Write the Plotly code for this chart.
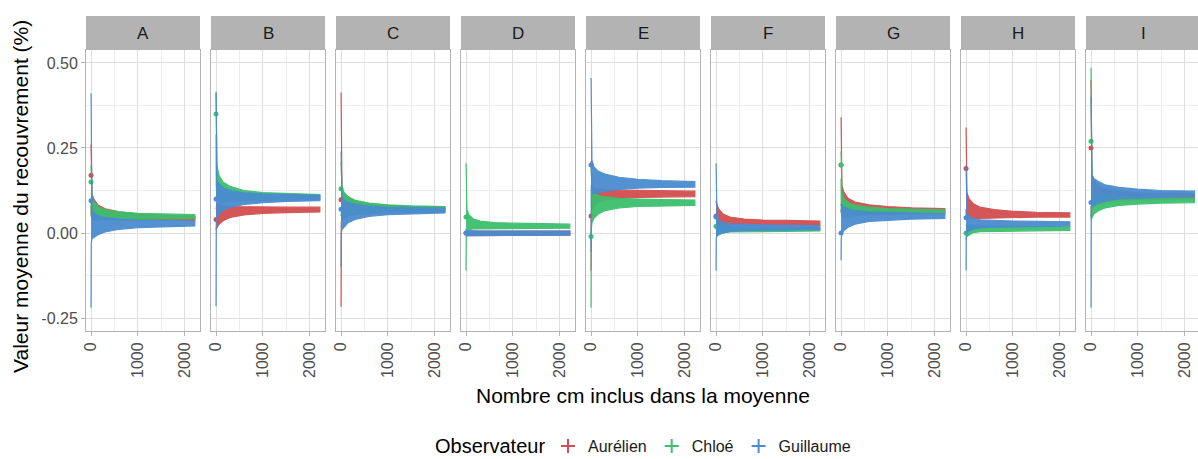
import numpy as np
import plotly.graph_objects as go
from plotly.subplots import make_subplots

PANELS = ["A", "B", "C", "D", "E", "F", "G", "H", "I"]
OBSERVERS = ["Aurélien", "Chloé", "Guillaume"]
COLORS = {"Aurélien": "#D24D4F", "Chloé": "#3DBF6E", "Guillaume": "#4A8CCF"}

# cm included in the running mean (sampled positions)
X_CM = [1, 5, 20, 60, 150, 300, 600, 1000, 1500, 2215]

# running mean per panel (A..I)
MEAN_AURELIEN = [
    [0.17, 0.09, 0.08, 0.07, 0.06, 0.055, 0.05, 0.047, 0.045, 0.043],
    [0.04, 0.045, 0.05, 0.055, 0.058, 0.062, 0.065, 0.067, 0.068, 0.069],
    [0.098, 0.09, 0.085, 0.08, 0.077, 0.074, 0.072, 0.071, 0.07, 0.07],
    [0.0, 0.0, 0.0, 0.0, 0.0, 0.0, 0.0, 0.0, 0.0, 0.0],
    [0.05, 0.09, 0.1, 0.105, 0.11, 0.112, 0.114, 0.115, 0.115, 0.115],
    [0.05, 0.06, 0.055, 0.048, 0.04, 0.035, 0.032, 0.03, 0.03, 0.029],
    [0.2, 0.12, 0.1, 0.09, 0.08, 0.075, 0.071, 0.069, 0.067, 0.066],
    [0.19, 0.09, 0.08, 0.072, 0.065, 0.06, 0.057, 0.055, 0.054, 0.053],
    [0.25, 0.14, 0.12, 0.115, 0.112, 0.11, 0.109, 0.108, 0.108, 0.108],
]
ERR_AURELIEN = [
    [0.09, 0.04, 0.035, 0.03, 0.022, 0.016, 0.012, 0.009, 0.007, 0.006],
    [0.03, 0.03, 0.035, 0.03, 0.022, 0.016, 0.012, 0.009, 0.008, 0.007],
    [0.315, 0.06, 0.045, 0.035, 0.027, 0.02, 0.014, 0.01, 0.008, 0.007],
    [0.008, 0.007, 0.006, 0.006, 0.006, 0.006, 0.006, 0.006, 0.006, 0.006],
    [0.16, 0.05, 0.035, 0.028, 0.02, 0.015, 0.012, 0.01, 0.008, 0.008],
    [0.04, 0.035, 0.028, 0.022, 0.016, 0.012, 0.009, 0.008, 0.007, 0.006],
    [0.14, 0.05, 0.04, 0.03, 0.022, 0.016, 0.012, 0.009, 0.007, 0.006],
    [0.12, 0.05, 0.04, 0.03, 0.022, 0.016, 0.012, 0.009, 0.007, 0.006],
    [0.2, 0.06, 0.045, 0.035, 0.027, 0.02, 0.014, 0.01, 0.008, 0.007],
]

MEAN_CHLOE = [
    [0.15, 0.1, 0.075, 0.065, 0.058, 0.054, 0.051, 0.05, 0.049, 0.048],
    [0.35, 0.2, 0.15, 0.13, 0.12, 0.115, 0.11, 0.108, 0.107, 0.106],
    [0.13, 0.11, 0.095, 0.088, 0.082, 0.078, 0.075, 0.073, 0.072, 0.071],
    [0.047, 0.05, 0.04, 0.032, 0.027, 0.024, 0.022, 0.021, 0.021, 0.02],
    [-0.01, 0.07, 0.075, 0.08, 0.083, 0.086, 0.088, 0.089, 0.089, 0.089],
    [0.02, 0.015, 0.012, 0.011, 0.011, 0.011, 0.011, 0.011, 0.011, 0.011],
    [0.2, 0.1, 0.085, 0.075, 0.07, 0.067, 0.065, 0.064, 0.063, 0.062],
    [0.0, 0.005, 0.008, 0.01, 0.012, 0.013, 0.013, 0.013, 0.013, 0.013],
    [0.27, 0.09, 0.085, 0.088, 0.09, 0.092, 0.094, 0.095, 0.096, 0.096],
]
ERR_CHLOE = [
    [0.05, 0.045, 0.035, 0.028, 0.02, 0.015, 0.011, 0.008, 0.007, 0.006],
    [0.06, 0.06, 0.05, 0.04, 0.03, 0.022, 0.015, 0.011, 0.009, 0.007],
    [0.08, 0.05, 0.04, 0.033, 0.025, 0.018, 0.013, 0.01, 0.008, 0.007],
    [0.158, 0.035, 0.03, 0.022, 0.015, 0.011, 0.009, 0.008, 0.007, 0.006],
    [0.21, 0.06, 0.045, 0.037, 0.028, 0.02, 0.014, 0.011, 0.009, 0.008],
    [0.03, 0.025, 0.02, 0.015, 0.011, 0.008, 0.007, 0.006, 0.006, 0.005],
    [0.04, 0.04, 0.035, 0.028, 0.02, 0.015, 0.011, 0.008, 0.007, 0.006],
    [0.02, 0.02, 0.018, 0.015, 0.011, 0.009, 0.007, 0.006, 0.006, 0.005],
    [0.216, 0.05, 0.04, 0.032, 0.025, 0.018, 0.013, 0.01, 0.008, 0.007],
]

MEAN_GUILLAUME = [
    [0.095, 0.03, 0.028, 0.024, 0.023, 0.024, 0.026, 0.027, 0.028, 0.028],
    [0.1, 0.1, 0.1, 0.1, 0.1, 0.1, 0.101, 0.102, 0.103, 0.103],
    [0.07, 0.06, 0.058, 0.058, 0.06, 0.062, 0.064, 0.065, 0.066, 0.066],
    [0.0, 0.0, 0.0, 0.0, 0.0, 0.0, 0.0, 0.0, 0.0, 0.0],
    [0.2, 0.2, 0.165, 0.155, 0.15, 0.148, 0.146, 0.145, 0.144, 0.143],
    [0.047, 0.02, 0.018, 0.017, 0.016, 0.016, 0.016, 0.016, 0.016, 0.016],
    [0.0, 0.035, 0.04, 0.042, 0.044, 0.046, 0.048, 0.049, 0.05, 0.05],
    [0.045, 0.03, 0.028, 0.027, 0.027, 0.027, 0.027, 0.027, 0.027, 0.027],
    [0.09, 0.14, 0.125, 0.12, 0.12, 0.118, 0.117, 0.116, 0.115, 0.115],
]
ERR_GUILLAUME = [
    [0.315, 0.06, 0.045, 0.036, 0.028, 0.021, 0.015, 0.011, 0.009, 0.007],
    [0.315, 0.07, 0.055, 0.045, 0.034, 0.025, 0.017, 0.013, 0.01, 0.008],
    [0.17, 0.06, 0.048, 0.04, 0.03, 0.022, 0.015, 0.011, 0.009, 0.007],
    [0.01, 0.008, 0.007, 0.007, 0.006, 0.006, 0.006, 0.006, 0.006, 0.006],
    [0.256, 0.06, 0.05, 0.04, 0.032, 0.025, 0.018, 0.013, 0.01, 0.008],
    [0.158, 0.035, 0.027, 0.02, 0.015, 0.011, 0.009, 0.008, 0.007, 0.006],
    [0.08, 0.05, 0.042, 0.035, 0.027, 0.02, 0.014, 0.011, 0.009, 0.007],
    [0.155, 0.035, 0.028, 0.022, 0.016, 0.012, 0.01, 0.008, 0.007, 0.006],
    [0.31, 0.06, 0.048, 0.04, 0.032, 0.024, 0.017, 0.013, 0.01, 0.008],
]

SERIES = {
    "Aurélien": (MEAN_AURELIEN, ERR_AURELIEN),
    "Chloé": (MEAN_CHLOE, ERR_CHLOE),
    "Guillaume": (MEAN_GUILLAUME, ERR_GUILLAUME),
}

FONT = "Liberation Sans, Arial, sans-serif"
W, H = 1198, 459
L, R, T, B = 86, 0, 16, 128
PW, PH = W - L - R, H - T - B
PANEL_TOP = 50  # px, bottom of the strips
PANEL_W, GAP = 114, 11


def px_x(px):
    return (px - L) / PW


def px_y(px):
    return (H - B - px) / PH


fig = make_subplots(rows=1, cols=len(PANELS), shared_yaxes=True)

for p, panel in enumerate(PANELS):
    col = p + 1
    for obs in OBSERVERS:
        means, errs = SERIES[obs]
        m = np.array(means[p])
        e = np.array(errs[p])
        x = np.array(X_CM, dtype=float)
        fig.add_trace(go.Scatter(
            x=np.concatenate([x, x[::-1]]),
            y=np.concatenate([m + e, (m - e)[::-1]]),
            mode="lines", fill="toself",
            fillcolor=COLORS[obs],
            line=dict(color=COLORS[obs], width=1.2),
            opacity=0.95,
            hoverinfo="skip", showlegend=False,
        ), row=1, col=col)
        fig.add_trace(go.Scatter(
            x=X_CM[:1], y=means[p][:1], mode="markers",
            marker=dict(size=5, color=COLORS[obs], line=dict(width=0)),
            hoverinfo="skip", showlegend=False,
        ), row=1, col=col)

# legend keys
for obs in OBSERVERS:
    fig.add_trace(go.Scatter(
        x=[None], y=[None], mode="markers", name=obs,
        marker=dict(symbol="cross-thin", size=10, color=COLORS[obs],
                    line=dict(color=COLORS[obs], width=2)),
    ), row=1, col=1)

grid = dict(showgrid=True, gridcolor="#DEDEDE", gridwidth=1, zeroline=False,
            showline=True, mirror=True, linecolor="#B3B3B3", linewidth=1)

shapes, annotations = [], []
for p, panel in enumerate(PANELS):
    x0 = L + p * (PANEL_W + GAP)
    x1 = min(x0 + PANEL_W, W)
    xr = [-107, 2325] if x1 - x0 == PANEL_W else [-107, 2291]
    fig.update_xaxes(
        domain=[px_x(x0), px_x(x1)], range=xr,
        tickvals=[0, 1000, 2000], ticktext=["0", "1000", "2000"],
        tickangle=-90, ticks="outside", ticklen=4, tickcolor="#B3B3B3",
        tickfont=dict(family=FONT, size=16, color="#4D4D4D"),
        minor=dict(tickvals=[500, 1500], showgrid=True, gridcolor="#EDEDED", gridwidth=0.6),
        **grid, row=1, col=p + 1,
    )
    fig.update_yaxes(
        domain=[0, px_y(PANEL_TOP)], range=[-0.288, 0.538],
        tickvals=[-0.25, 0, 0.25, 0.5], ticktext=["-0.25", "0.00", "0.25", "0.50"],
        showticklabels=(p == 0), ticks="outside" if p == 0 else "",
        ticklen=4, tickcolor="#B3B3B3",
        tickfont=dict(family=FONT, size=16, color="#4D4D4D"),
        minor=dict(tickvals=[-0.125, 0.125, 0.375], showgrid=True, gridcolor="#EDEDED", gridwidth=0.6),
        **grid, row=1, col=p + 1,
    )
    shapes.append(dict(type="rect", xref="paper", yref="paper",
                       x0=px_x(x0), x1=px_x(x1), y0=px_y(PANEL_TOP), y1=px_y(16),
                       fillcolor="#B3B3B3", line=dict(width=0), layer="below"))
    annotations.append(dict(text=panel, xref="paper", yref="paper",
                            x=px_x((x0 + x0 + PANEL_W) / 2), y=px_y(33),
                            showarrow=False, xanchor="center", yanchor="middle",
                            font=dict(family=FONT, size=17, color="#1A1A1A")))

annotations.append(dict(text="Nombre cm inclus dans la moyenne", xref="paper", yref="paper",
                        x=px_x(643), y=px_y(395), showarrow=False,
                        xanchor="center", yanchor="middle",
                        font=dict(family=FONT, size=21, color="#000000")))
annotations.append(dict(text="Valeur moyenne du recouvrement (%)", xref="paper", yref="paper",
                        x=px_x(20), y=px_y(197), showarrow=False, textangle=-90,
                        xanchor="center", yanchor="middle",
                        font=dict(family=FONT, size=21, color="#000000")))
annotations.append(dict(text="Observateur", xref="paper", yref="paper",
                        x=px_x(546), y=px_y(446), showarrow=False,
                        xanchor="right", yanchor="middle", borderpad=0,
                        font=dict(family=FONT, size=20, color="#000000")))

fig.update_layout(
    width=W, height=H,
    margin=dict(l=L, r=R, t=T, b=B, autoexpand=False),
    plot_bgcolor="white", paper_bgcolor="white",
    shapes=shapes, annotations=annotations,
    showlegend=True,
    legend=dict(
        orientation="h", x=px_x(548), xanchor="left", y=px_y(446), yanchor="middle",
        font=dict(family=FONT, size=16, color="#1A1A1A"),
        itemwidth=30,
        bgcolor="rgba(0,0,0,0)",
    ),
)

fig.write_html("out.html", config={"displayModeBar": False},
               post_script="document.body.style.margin='0';")
